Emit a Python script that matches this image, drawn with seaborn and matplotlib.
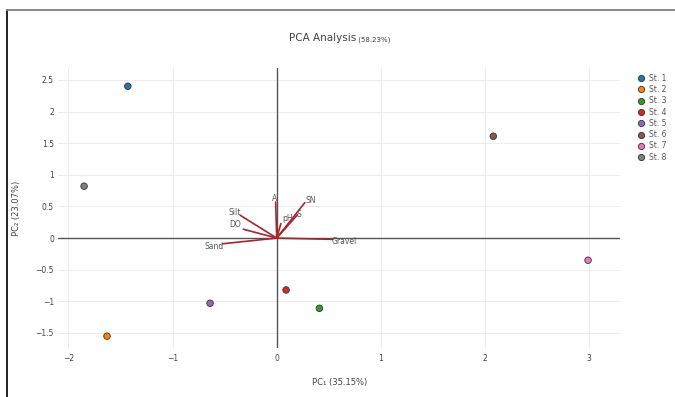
import seaborn as sns
import matplotlib.pyplot as plt
import pandas as pd
from matplotlib.lines import Line2D

# station scores
stations = ["St. 1", "St. 2", "St. 3", "St. 4", "St. 5", "St. 6", "St. 7", "St. 8"]
pc1 = [-1.43, -1.63, 0.41, 0.09, -0.64, 2.08, 2.99, -1.85]
pc2 = [2.40, -1.55, -1.11, -0.82, -1.03, 1.61, -0.35, 0.82]

# variable loadings
variables = ["A", "SN", "S", "pH", "Silt", "DO", "Sand", "Gravel"]
load1 = [-0.01, 0.27, 0.20, 0.04, -0.35, -0.32, -0.52, 0.54]
load2 = [0.57, 0.56, 0.37, 0.23, 0.36, 0.14, -0.09, -0.02]

colors = ["#1f77b4", "#ff7f0e", "#2ca02c", "#d62728", "#9467bd", "#8c564b", "#e377c2", "#7f7f7f"]

df = pd.DataFrame({"PC1": pc1, "PC2": pc2, "Station": stations})

sns.set_style("white")
plt.rcParams['font.family'] = ['DejaVu Sans']

fig = plt.figure(figsize=(6.75, 3.97), dpi=100)
ax = fig.add_axes([0.086, 0.123, 0.833, 0.706])

# grid + zero lines
for v in [-2, -1, 0, 1, 2, 3]:
    ax.axvline(v, color="#ececec", lw=0.7, zorder=0)
for v in [-1.5, -1, -0.5, 0, 0.5, 1, 1.5, 2, 2.5]:
    ax.axhline(v, color="#ececec", lw=0.7, zorder=0)
ax.axhline(0, color="#555555", lw=1.0, zorder=1)
ax.axvline(0, color="#555555", lw=1.0, zorder=1)

# loading vectors
for name, lx, ly in zip(variables, load1, load2):
    ax.plot([0, lx], [0, ly], color="#a8232c", lw=1.2, zorder=2)
label_pos = {
    "A": (-0.02, 0.62), "SN": (0.33, 0.59), "S": (0.21, 0.37),
    "pH": (0.10, 0.31), "Silt": (-0.40, 0.41), "DO": (-0.40, 0.22),
    "Sand": (-0.60, -0.13), "Gravel": (0.65, -0.06),
}
for name in variables:
    x, y = label_pos[name]
    ax.text(x, y, name, fontsize=5.5, color="#555555", ha="center", va="center", zorder=3)

sns.scatterplot(data=df, x="PC1", y="PC2", hue="Station", palette=colors,
                s=22, edgecolor="#333333", linewidth=0.6, ax=ax, legend=False, zorder=4)

ax.set_xlim(-2.1, 3.3)
ax.set_ylim(-1.74, 2.69)
ax.set_xticks([-2, -1, 0, 1, 2, 3])
ax.set_xticklabels(["\u22122", "\u22121", "0", "1", "2", "3"])
ax.set_yticks([-1.5, -1, -0.5, 0, 0.5, 1, 1.5, 2, 2.5])
ax.set_yticklabels(["\u22121.5", "\u22121", "\u22120.5", "0", "0.5", "1", "1.5", "2", "2.5"])
ax.tick_params(axis="both", labelsize=5.5, labelcolor="#444444", length=0)
ax.tick_params(axis="y", pad=3)
ax.tick_params(axis="x", pad=4)
for s in ax.spines.values():
    s.set_visible(False)

ax.set_xlabel("PC\u2081 (35.15%)", fontsize=6, color="#444444", labelpad=11)
ax.set_ylabel("PC\u2082 (23.07%)", fontsize=6, color="#444444", labelpad=10)

fig.text(0.528, 0.905, "PCA Analysis", fontsize=7.5, color="#444444", ha="right", va="center")
fig.text(0.528, 0.900, " (58.23%)", fontsize=5, color="#444444", ha="left", va="center")

handles = [Line2D([0], [0], marker="o", linestyle="", markerfacecolor=c,
                  markeredgecolor="#333333", markeredgewidth=0.6, markersize=4.5) for c in colors]
fig.legend(handles, stations, loc="upper left", bbox_to_anchor=(0.940, 0.822), frameon=False,
           fontsize=5.5, labelcolor="#555555", handletextpad=0.5, labelspacing=0.3,
           borderaxespad=0, handlelength=1.0)

# frame lines of the original screenshot
fig.add_artist(Line2D([0.0104, 0.0104], [0.0, 0.975], transform=fig.transFigure, color="#222222", lw=1.4))
fig.add_artist(Line2D([0.0104, 1.0], [0.975, 0.975], transform=fig.transFigure, color="#888888", lw=1.4))

fig.savefig("out.png", dpi=100)
